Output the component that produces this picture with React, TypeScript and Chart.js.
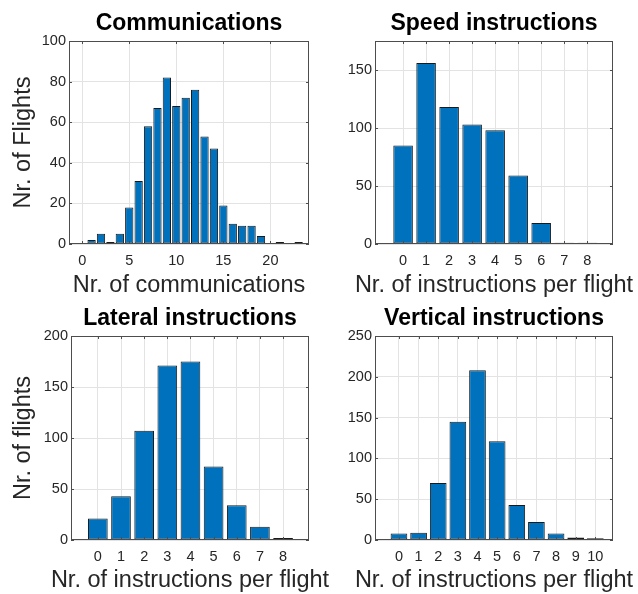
import React, { useEffect, useRef } from 'react';
import { Chart, registerables } from 'chart.js';

Chart.register(...registerables);
const FONT_FAMILY = '"Liberation Sans", Arial, Helvetica, sans-serif';
Chart.defaults.font.family = FONT_FAMILY;

// ---------- DATA ----------
const commBins = [1, 2, 3, 4, 5, 6, 7, 8, 9, 10, 11, 12, 13, 14, 15, 16, 17, 18, 19, 20, 21, 22, 23];
const commCounts = [2, 5, 1, 5, 18, 31, 58, 67, 82, 68, 72, 76, 53, 47, 19, 10, 9, 9, 4, 0, 1, 0, 1];
const commXTicks = [0, 5, 10, 15, 20];
const commYTicks = [0, 20, 40, 60, 80, 100];

const speedBins = [0, 1, 2, 3, 4, 5, 6, 7, 8];
const speedCounts = [85, 156, 118, 103, 98, 59, 18, 1, 1];
const speedXTicks = [0, 1, 2, 3, 4, 5, 6, 7, 8];
const speedYTicks = [0, 50, 100, 150];

const lateralBins = [0, 1, 2, 3, 4, 5, 6, 7, 8];
const lateralCounts = [21, 43, 107, 171, 175, 72, 34, 13, 2];
const lateralXTicks = [0, 1, 2, 3, 4, 5, 6, 7, 8];
const lateralYTicks = [0, 50, 100, 150, 200];

const verticalBins = [0, 1, 2, 3, 4, 5, 6, 7, 8, 9, 10];
const verticalCounts = [8, 9, 70, 145, 208, 121, 43, 22, 8, 3, 2];
const verticalXTicks = [0, 1, 2, 3, 4, 5, 6, 7, 8, 9, 10];
const verticalYTicks = [0, 50, 100, 150, 200, 250];

// ---------- STYLE ----------
const BAR_FILL = '#0072BD';
const BAR_EDGE = '#1a1a1a';
const AXIS_COLOR = '#4d4d4d';
const TEXT_COLOR = '#262626';
const GRID_COLOR = '#e3e3e3';
const TITLE_SIZE = 23;
const LABEL_SIZE = 23.5;
const TICK_SIZE = 14.5;

type Area = { l: number; r: number; t: number; b: number };
type PanelSpec = {
  left: number; top: number; w: number; h: number;
  area: Area;
  title: string; xTitle: string; yTitle?: string;
  bins: number[]; counts: number[]; xTicks: number[]; yTicks: number[];
  xMin: number; xMax: number; yMax: number;
  barPct: number; titleCenter: number; xTitleOffset: number; yTitleCenter: number;
};

const boxPlugin = {
  id: 'matlabBox',
  afterDatasetsDraw(chart: any) {
    const { ctx, chartArea: a, scales } = chart;
    ctx.save();
    ctx.strokeStyle = AXIS_COLOR;
    ctx.lineWidth = 1;
    ctx.strokeRect(a.left + 0.5, a.top + 0.5, a.right - a.left - 1, a.bottom - a.top - 1);
    const tl = 3;
    ctx.beginPath();
    for (const t of scales.x.ticks) {
      const px = Math.round(scales.x.getPixelForValue(t.value)) + 0.5;
      ctx.moveTo(px, a.bottom); ctx.lineTo(px, a.bottom - tl);
      ctx.moveTo(px, a.top); ctx.lineTo(px, a.top + tl);
    }
    for (const t of scales.y.ticks) {
      const py = Math.round(scales.y.getPixelForValue(t.value)) + 0.5;
      ctx.moveTo(a.left, py); ctx.lineTo(a.left + tl, py);
      ctx.moveTo(a.right, py); ctx.lineTo(a.right - tl, py);
    }
    ctx.stroke();
    ctx.restore();
  },
  afterDraw(chart: any, _args: any, opts: any) {
    const { ctx, chartArea: a } = chart;
    if (!opts || !opts.text) return;
    ctx.save();
    ctx.fillStyle = TEXT_COLOR;
    ctx.font = `${LABEL_SIZE}px ${FONT_FAMILY}`;
    ctx.textAlign = 'center';
    ctx.textBaseline = 'middle';
    ctx.fillText(opts.text, (a.left + a.right) / 2, chart.height - opts.offset);
    ctx.restore();
  },
};

function Panel({ spec }: { spec: PanelSpec }) {
  const ref = useRef<HTMLCanvasElement | null>(null);
  useEffect(() => {
    if (!ref.current) return;
    const s = spec;
    const chart = new Chart(ref.current, {
      type: 'bar',
      data: {
        datasets: [{
          data: s.bins.map((b, i) => ({ x: b, y: s.counts[i] })),
          backgroundColor: BAR_FILL,
          borderColor: BAR_EDGE,
          borderWidth: 1,
          borderSkipped: false,
          categoryPercentage: 1,
          barPercentage: s.barPct,
        }],
      },
      options: {
        animation: false,
        responsive: false,
        maintainAspectRatio: false,
        devicePixelRatio: 1,
        layout: { padding: { left: 0, top: 0, right: s.w - s.area.r, bottom: 0 } },
        plugins: {
          legend: { display: false },
          tooltip: { enabled: false },
          matlabBox: { text: s.xTitle, offset: s.xTitleOffset },
          title: {
            display: true,
            text: s.title,
            fullSize: false,
            color: '#000',
            font: { size: TITLE_SIZE, weight: 'bold', lineHeight: 1 },
            padding: { top: s.titleCenter - TITLE_SIZE / 2, bottom: s.area.t - s.titleCenter - TITLE_SIZE / 2 },
          },
        },
        scales: {
          x: {
            type: 'linear',
            offset: false,
            min: s.xMin,
            max: s.xMax,
            afterBuildTicks: (sc: any) => { sc.ticks = s.xTicks.map((v) => ({ value: v })); },
            afterFit: (sc: any) => { sc.height = s.h - s.area.b; },
            grid: { color: GRID_COLOR, drawTicks: false, lineWidth: 1, offset: false },
            border: { display: false },
            ticks: { color: TEXT_COLOR, font: { size: TICK_SIZE }, padding: 8, autoSkip: false, maxRotation: 0 },
          },
          y: {
            type: 'linear',
            min: 0,
            max: s.yMax,
            afterBuildTicks: (sc: any) => { sc.ticks = s.yTicks.map((v) => ({ value: v })); },
            afterFit: (sc: any) => { sc.width = s.area.l; },
            grid: { color: GRID_COLOR, drawTicks: false, lineWidth: 1 },
            border: { display: false },
            ticks: { color: TEXT_COLOR, font: { size: TICK_SIZE }, padding: 3 },
            title: {
              display: !!s.yTitle,
              text: s.yTitle || '',
              color: TEXT_COLOR,
              font: { size: LABEL_SIZE, lineHeight: 1 },
              padding: { top: s.yTitleCenter - LABEL_SIZE / 2, bottom: 0 },
            },
          },
        },
      } as any,
      plugins: [boxPlugin],
    });
    return () => chart.destroy();
  }, [spec]);
  return (
    <div style={{ position: 'absolute', left: spec.left, top: spec.top, width: spec.w, height: spec.h }}>
      <canvas ref={ref} width={spec.w} height={spec.h} style={{ display: 'block' }} />
    </div>
  );
}

const panels: PanelSpec[] = [
  {
    left: 0, top: 0, w: 319, h: 297,
    area: { l: 69, r: 309, t: 41, b: 244 },
    title: 'Communications', xTitle: 'Nr. of communications', yTitle: 'Nr. of Flights',
    bins: commBins, counts: commCounts, xTicks: commXTicks, yTicks: commYTicks,
    xMin: -1.4, xMax: 24.1, yMax: 100, barPct: 0.88,
    titleCenter: 24, xTitleOffset: 11, yTitleCenter: 24,
  },
  {
    left: 319, top: 0, w: 319, h: 297,
    area: { l: 56, r: 294, t: 41, b: 244 },
    title: 'Speed instructions', xTitle: 'Nr. of instructions per flight',
    bins: speedBins, counts: speedCounts, xTicks: speedXTicks, yTicks: speedYTicks,
    xMin: -1.22, xMax: 9.12, yMax: 175, barPct: 0.85,
    titleCenter: 24, xTitleOffset: 11, yTitleCenter: 24,
  },
  {
    left: 0, top: 297, w: 342, h: 297,
    area: { l: 71, r: 309, t: 39, b: 243 },
    title: 'Lateral instructions', xTitle: 'Nr. of instructions per flight', yTitle: 'Nr. of flights',
    bins: lateralBins, counts: lateralCounts, xTicks: lateralXTicks, yTicks: lateralYTicks,
    xMin: -1.16, xMax: 9.12, yMax: 200, barPct: 0.85,
    titleCenter: 22, xTitleOffset: 13, yTitleCenter: 24,
  },
  {
    left: 319, top: 297, w: 319, h: 297,
    area: { l: 56, r: 294, t: 39, b: 243 },
    title: 'Vertical instructions', xTitle: 'Nr. of instructions per flight',
    bins: verticalBins, counts: verticalCounts, xTicks: verticalXTicks, yTicks: verticalYTicks,
    xMin: -1.22, xMax: 10.9, yMax: 250, barPct: 0.85,
    titleCenter: 22, xTitleOffset: 13, yTitleCenter: 24,
  },
];

export default function App() {
  return (
    <div style={{ position: 'absolute', left: 0, top: 0, width: 638, height: 594, background: '#fff' }}>
      {panels.map((p, i) => <Panel key={i} spec={p} />)}
    </div>
  );
}
